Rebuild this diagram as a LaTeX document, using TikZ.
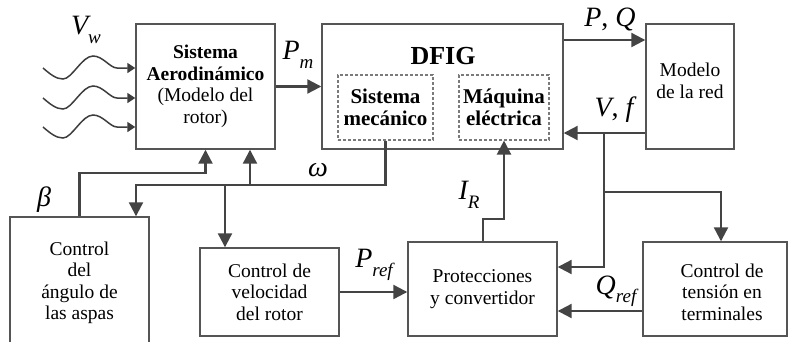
\documentclass[tikz,border=0pt]{standalone}
\usepackage{fontspec}
\setmainfont{Liberation Serif}
\usetikzlibrary{arrows.meta}
\definecolor{boxgray}{HTML}{555555}
\definecolor{linegray}{HTML}{444444}
\definecolor{dashgray}{HTML}{7A7A7A}
\newcommand{\bodyfs}{\fontsize{19.5}{21.5}\selectfont}
\newcommand{\mathfs}{\fontsize{28}{28}\selectfont\itshape}
\newcommand{\lowsub}[1]{\raisebox{-0.3em}{\fontsize{19}{19}\selectfont\itshape #1}}
\tikzset{
  blk/.style={draw=boxgray, line width=1.4pt, inner sep=0pt, align=center, font=\bodyfs, text=black},
  dblk/.style={draw=dashgray, line width=1.1pt, dash pattern=on 3pt off 2pt, inner sep=0pt, align=center, font=\fontsize{21}{22.5}\selectfont\bfseries, text=black},
  txt/.style={inner sep=0pt, align=center, font=\bodyfs, text=black},
  mlabel/.style={inner sep=0pt, font=\mathfs, text=black},
  arr/.style={draw=linegray, line width=2.2pt, -{Triangle[length=14pt,width=14pt]}},
  wind/.style={draw=linegray!90!black, line width=1.5pt, -{Triangle[length=8pt,width=10pt]}}
}
\begin{document}
\begin{tikzpicture}[x=1pt,y=-1pt]
\useasboundingbox (0,0) rectangle (788,341);
% boxes
\node[blk, minimum width=139pt, minimum height=125pt] (aero) at (205.5,86.5)
  {\textbf{Sistema}\\\textbf{Aerodinámico}\\(Modelo del\\rotor)};
\node[blk, minimum width=241pt, minimum height=125pt] (dfig) at (442.5,86.5) {};
\node[txt, font=\fontsize{26}{26}\selectfont\bfseries] (dfiglbl) at (443,56) {DFIG};
\node[dblk, minimum width=95pt, minimum height=65pt] (mec) at (385.5,107.5) {Sistema\\mecánico};
\node[dblk, minimum width=90pt, minimum height=65pt] (maq) at (504,107.5) {Máquina\\eléctrica};
\node[blk, minimum width=88pt, minimum height=125pt] (red) at (690,86.5) {};
\node[txt] (redlbl) at (690,81) {Modelo\\de la red};
\node[blk, minimum width=139pt, minimum height=128pt] (ang) at (79.5,281) {};
\node[txt] (anglbl) at (79.5,283) {Control\\del\\ángulo de\\las aspas};
\node[blk, minimum width=139pt, minimum height=88pt] (vel) at (269.5,292) {Control de\\velocidad\\del rotor};
\node[blk, minimum width=149pt, minimum height=94pt] (prot) at (482.5,289) {Protecciones\\y convertidor};
\node[blk, minimum width=144pt, minimum height=94pt] (ten) at (715,289) {};
\node[txt] (tenlbl) at (722,292) {Control de\\tensión en\\terminales};
% wind
\foreach \yy in {68,98,127}{
  \coordinate (w0) at (43,\yy);
  \draw[wind] (w0) .. controls (50,\yy+6) and (56,\yy+11) .. (63,\yy+11)
     .. controls (72,\yy+11) and (82,\yy-12) .. (93,\yy-12)
     .. controls (103,\yy-12) and (110,\yy) .. (117,\yy) -- (aero.west |- w0);
}
\node[mlabel] (vw) at (86,30) {V\lowsub{w}};
% P_m
\draw[arr] (aero.east) -- (dfig.west);
\node[mlabel] (pm) at (298,55) {P\lowsub{m}};
% P, Q
\coordinate (pq) at (0,40);
\draw[arr] (dfig.east |- pq) -- (red.west |- pq);
\node[mlabel] (pql) at (610,19) {P\upshape,\ \itshape Q};
% V, f
\coordinate (vf) at (0,133);
\coordinate (j1) at (604,133);
\coordinate (j2) at (604,192);
\coordinate (j3) at (604,267);
\coordinate (jt) at (721,192);
\draw[arr] (red.west |- vf) -- (dfig.east |- vf);
\node[mlabel] (vfl) at (614,110) {V\upshape,\ \itshape f};
\draw[arr] (j1) -- (j3) -- (prot.east |- j3);
\draw[arr] (j2) -- (jt) -- (ten.north -| jt);
% Q_ref
\coordinate (qr) at (0,311);
\draw[arr] (ten.west |- qr) -- (prot.east |- qr);
\node[mlabel] (qrl) at (616,291) {Q\lowsub{ref}};
% I_R
\coordinate (ir1) at (483,219);
\coordinate (ir2) at (504,219);
\draw[arr] (prot.north -| ir1) -- (ir1) -- (ir2) -- (maq.south);
\node[mlabel] (irl) at (469,195) {I\lowsub{R}};
% P_ref
\draw[arr] (vel.east) -- (prot.west |- vel.east);
\node[mlabel] (prl) at (374,265) {P\lowsub{ref}};
% omega
\coordinate (om1) at (385.5,185);
\coordinate (om2) at (136,185);
\coordinate (om3) at (250,185);
\coordinate (om4) at (225,185);
\draw[arr] (mec.south) -- (om1) -- (om2) -- (ang.north -| om2);
\draw[arr] (om3) -- (aero.south -| om3);
\draw[arr] (om4) -- (vel.north -| om4);
\node[mlabel] (oml) at (318,170) {ω};
% beta
\coordinate (b1) at (79.5,173);
\coordinate (b2) at (205.5,173);
\draw[arr] (ang.north) -- (b1) -- (b2) -- (aero.south);
\node[mlabel] (bl) at (44,200) {β};
\end{tikzpicture}
\end{document}
